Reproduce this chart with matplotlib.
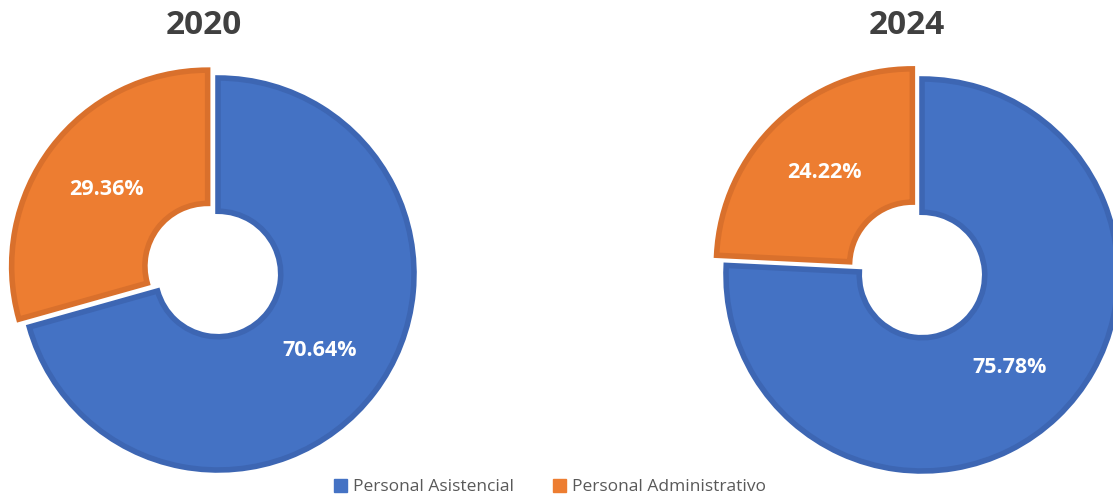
import matplotlib.pyplot as plt
from matplotlib.patches import Patch

plt.rcParams['font.family'] = ['Open Sans', 'DejaVu Sans']

categories = ['Personal Asistencial', 'Personal Administrativo']
years = ['2020', '2024']
shares_2020 = [70.64, 29.36]
shares_2024 = [75.78, 24.22]

fill_colors = ['#4472C4', '#ED7D31']
edge_colors = ['#3D66B3', '#D9702C']

W, H = 1113, 499
fig = plt.figure(figsize=(W / 100, H / 100), dpi=100)

R = 196  # outer radius in pixels


def donut(box, center, values, explode_px, title, title_x):
    # box = (left, right) in pixels, center = (x, y from top) in pixels
    left, right = box
    ax = fig.add_axes([left / W, 0, (right - left) / W, 1])
    wedges, texts, autotexts = ax.pie(
        values,
        startangle=90,
        counterclock=False,
        explode=[0, explode_px / R],
        colors=fill_colors,
        autopct='%.2f%%',
        pctdistance=0.65,
        wedgeprops=dict(width=0.68, linewidth=4),
        textprops=dict(color='white', fontsize=15.5, fontweight='bold'),
    )
    for w, ec in zip(wedges, edge_colors):
        w.set_edgecolor(ec)
    cx, cy = center
    ax.set_aspect('auto')
    ax.set_xlim(-(cx - left) / R, (right - cx) / R)
    ax.set_ylim(-(H - cy) / R, cy / R)
    fig.text(title_x / W, 1 - 26 / H, title, ha='center', va='center',
             fontsize=24, fontweight='bold', color='#404040')
    return ax


donut((0, 440), (218, 274), shares_2020, 13, years[0], 204)
donut((690, 1113), (922, 275), shares_2024, 14, years[1], 907)

handles = [Patch(facecolor=c, edgecolor=c) for c in fill_colors]
fig.legend(handles, categories, loc='center', bbox_to_anchor=(550 / W, 1 - 487 / H),
           ncol=2, frameon=False, fontsize=12.5, labelcolor='#595959',
           handlelength=0.75, handleheight=0.75, handletextpad=0.3, columnspacing=2.3)

fig.savefig('out.png', dpi=100)
